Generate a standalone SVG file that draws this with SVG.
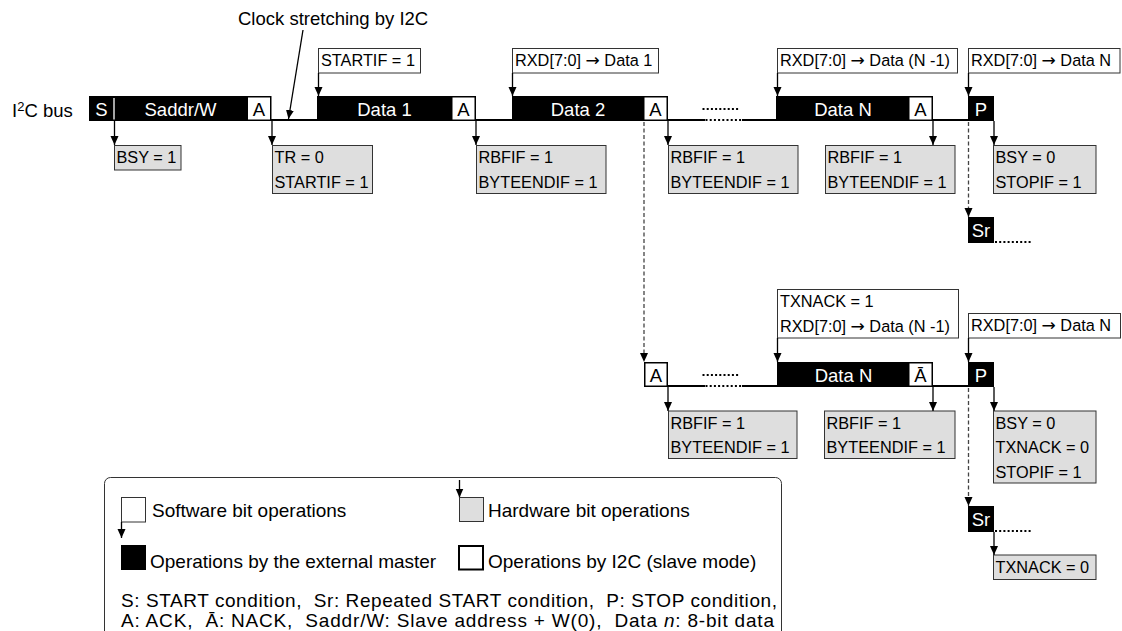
<svg xmlns="http://www.w3.org/2000/svg" width="1122" height="631" viewBox="0 0 1122 631">
<style>
text{font-family:"Liberation Sans",Arial,Helvetica,sans-serif;fill:#000}
.ann{font-size:16.3px}
.arw{font-family:"DejaVu Sans",sans-serif;font-size:17px}
.bus{font-size:18.5px;fill:#fff;text-anchor:middle}
.busk{font-size:18.5px;fill:#000;text-anchor:middle}
.lab{font-size:18.5px}
.leg{font-size:19px}
.gray{fill:#dedede;stroke:#333;stroke-width:1}
.white{fill:#fff;stroke:#333;stroke-width:1}
.bar{fill:#000}
.ackin{fill:#fff}
.busline{stroke:#000;stroke-width:2;fill:none}
.dot{stroke:#000;stroke-width:2;stroke-dasharray:2 2.2;fill:none}
.conn{stroke:#000;stroke-width:1.3;fill:none;marker-end:url(#ah)}
.dash{stroke:#444;stroke-width:1.3;stroke-dasharray:4 2.5;fill:none;marker-end:url(#ah)}
</style>
<defs>
<marker id="ah" markerUnits="userSpaceOnUse" markerWidth="9" markerHeight="10" refX="9" refY="4" orient="auto">
<path d="M0,0 L9,4 L0,8 z" fill="#000"/>
</marker>
</defs>

<text id="bus-label" class="lab" x="12" y="117">I<tspan font-size="13" dy="-6">2</tspan><tspan dy="6">C bus</tspan></text>
<text id="clock-label" class="lab" x="238" y="25">Clock stretching by I2C</text>

<g id="bus-upper">
  <rect class="bar" x="89" y="96" width="182.5" height="25"/>
  <line x1="114" y1="98" x2="114" y2="119.5" stroke="#fff" stroke-width="1.3"/>
  <rect class="ackin" x="248" y="97.5" width="22" height="22"/>
  <text class="bus" x="101.5" y="116">S</text>
  <text class="bus" x="180.5" y="116">Saddr/W</text>
  <text class="busk" x="259" y="116">A</text>

  <rect class="bar" x="317" y="96" width="159" height="25"/>
  <rect class="ackin" x="452.5" y="97.5" width="22" height="22"/>
  <text class="bus" x="384.5" y="116">Data 1</text>
  <text class="busk" x="463.5" y="116">A</text>

  <rect class="bar" x="512" y="96" width="156" height="25"/>
  <rect class="ackin" x="644.5" y="97.5" width="22" height="22"/>
  <text class="bus" x="578" y="116">Data 2</text>
  <text class="busk" x="655.5" y="116">A</text>

  <rect class="bar" x="776" y="96" width="157" height="25"/>
  <rect class="ackin" x="909.5" y="97.5" width="22" height="22"/>
  <text class="bus" x="843" y="116">Data N</text>
  <text class="busk" x="920.5" y="116">A</text>

  <rect class="bar" x="968" y="96" width="26" height="25"/>
  <text class="bus" x="981" y="116">P</text>

  <path class="busline" d="M271 120 H317 M476 120 H512 M668 120 H705 M742 120 H776 M933 120 H968"/>
  <path class="dot" d="M705.5 120 H742"/>
  <path class="dot" d="M702.5 109 H740"/>

  <rect class="bar" x="968" y="217" width="26" height="26"/>
  <text class="bus" x="981" y="237">Sr</text>
  <path class="dot" d="M995 242 H1031"/>
</g>

<g id="bus-lower">
  <rect class="bar" x="644" y="362" width="24" height="25"/>
  <rect class="ackin" x="645.5" y="363.5" width="21" height="22"/>
  <text class="busk" x="656" y="382">A</text>
  <path class="busline" d="M668 386 H705 M742 386 H777 M933 386 H968"/>
  <path class="dot" d="M705.5 386 H742"/>
  <path class="dot" d="M702.5 375 H740"/>

  <rect class="bar" x="777" y="362" width="156" height="25"/>
  <rect class="ackin" x="909.5" y="363.5" width="22" height="22"/>
  <text class="bus" x="843.5" y="382">Data N</text>
  <text class="busk" x="920.5" y="382">Ā</text>

  <rect class="bar" x="968" y="362" width="26" height="25"/>
  <text class="bus" x="981" y="382">P</text>

  <rect class="bar" x="968" y="506" width="26" height="26"/>
  <text class="bus" x="981" y="526">Sr</text>
  <path class="dot" d="M995 531 H1031"/>
</g>

<g id="sw-startif">
  <rect class="white" x="318.5" y="48.5" width="102" height="24.5"/>
  <text class="ann" x="321" y="66">STARTIF = 1</text>
</g>
<g id="sw-rxd1">
  <rect class="white" x="512.5" y="48.5" width="146" height="24.5"/>
  <text class="ann" x="515" y="66">RXD[7:0] <tspan class="arw">→</tspan> Data 1</text>
</g>
<g id="sw-rxdn1">
  <rect class="white" x="777.5" y="48.5" width="180" height="24.5"/>
  <text class="ann" x="780" y="66">RXD[7:0] <tspan class="arw">→</tspan> Data (N -1)</text>
</g>
<g id="sw-rxdn">
  <rect class="white" x="968.5" y="48.5" width="151.5" height="24.5"/>
  <text class="ann" x="971" y="66">RXD[7:0] <tspan class="arw">→</tspan> Data N</text>
</g>
<g id="sw-txnack">
  <rect class="white" x="777.5" y="289.5" width="181" height="48.5"/>
  <text class="ann" x="780" y="307">TXNACK = 1</text>
  <text class="ann" x="780" y="331.5">RXD[7:0] <tspan class="arw">→</tspan> Data (N -1)</text>
</g>
<g id="sw-rxdn-lower">
  <rect class="white" x="968.5" y="313.5" width="152" height="24.5"/>
  <text class="ann" x="971" y="331">RXD[7:0] <tspan class="arw">→</tspan> Data N</text>
</g>

<g id="hw-bsy1">
  <rect class="gray" x="114.5" y="145.5" width="66.5" height="24.5"/>
  <text class="ann" x="116.5" y="163">BSY = 1</text>
</g>
<g id="hw-tr">
  <rect class="gray" x="272.5" y="145.5" width="100" height="48"/>
  <text class="ann" x="274.5" y="163">TR = 0</text>
  <text class="ann" x="274.5" y="187.5">STARTIF = 1</text>
</g>
<g id="hw-rb1">
  <rect class="gray" x="476.5" y="145.5" width="129.5" height="48"/>
  <text class="ann" x="478.5" y="163">RBFIF = 1</text>
  <text class="ann" x="478.5" y="187.5">BYTEENDIF = 1</text>
</g>
<g id="hw-rb2">
  <rect class="gray" x="668.5" y="145.5" width="129.5" height="48"/>
  <text class="ann" x="670.5" y="163">RBFIF = 1</text>
  <text class="ann" x="670.5" y="187.5">BYTEENDIF = 1</text>
</g>
<g id="hw-rb3">
  <rect class="gray" x="825.5" y="145.5" width="129.5" height="48"/>
  <text class="ann" x="827.5" y="163">RBFIF = 1</text>
  <text class="ann" x="827.5" y="187.5">BYTEENDIF = 1</text>
</g>
<g id="hw-stop1">
  <rect class="gray" x="993.5" y="145.5" width="102.5" height="48"/>
  <text class="ann" x="995.5" y="163">BSY = 0</text>
  <text class="ann" x="995.5" y="187.5">STOPIF = 1</text>
</g>
<g id="hw-rb4">
  <rect class="gray" x="668.5" y="411" width="128.5" height="47.5"/>
  <text class="ann" x="670.5" y="428.5">RBFIF = 1</text>
  <text class="ann" x="670.5" y="453">BYTEENDIF = 1</text>
</g>
<g id="hw-rb5">
  <rect class="gray" x="824.5" y="411" width="130.5" height="47.5"/>
  <text class="ann" x="826.5" y="428.5">RBFIF = 1</text>
  <text class="ann" x="826.5" y="453">BYTEENDIF = 1</text>
</g>
<g id="hw-stop2">
  <rect class="gray" x="993.5" y="411" width="102.5" height="72"/>
  <text class="ann" x="995.5" y="428.5">BSY = 0</text>
  <text class="ann" x="995.5" y="453">TXNACK = 0</text>
  <text class="ann" x="995.5" y="477.5">STOPIF = 1</text>
</g>
<g id="hw-txnack0">
  <rect class="gray" x="993.5" y="555" width="102.5" height="24.5"/>
  <text class="ann" x="995.5" y="572.5">TXNACK = 0</text>
</g>

<g id="connectors">
  <line class="conn" x1="303" y1="30" x2="288.5" y2="119"/>
  <line class="conn" x1="114.5" y1="121" x2="114.5" y2="145"/>
  <line class="conn" x1="272" y1="121" x2="272" y2="145"/>
  <line class="conn" x1="476" y1="121" x2="476" y2="145"/>
  <line class="conn" x1="668" y1="121" x2="668" y2="145"/>
  <line class="conn" x1="933" y1="121" x2="933" y2="145"/>
  <line class="conn" x1="994" y1="121" x2="994" y2="145"/>
  <line class="conn" x1="318.5" y1="73" x2="318.5" y2="96"/>
  <line class="conn" x1="512.5" y1="73" x2="512.5" y2="96"/>
  <line class="conn" x1="777.5" y1="73" x2="777.5" y2="96"/>
  <line class="conn" x1="968.5" y1="73" x2="968.5" y2="96"/>
  <line class="dash" x1="644" y1="122" x2="644" y2="362"/>
  <line class="dash" x1="968.5" y1="122" x2="968.5" y2="217"/>
  <line class="conn" x1="777.5" y1="338" x2="777.5" y2="362"/>
  <line class="conn" x1="968.5" y1="338" x2="968.5" y2="362"/>
  <line class="conn" x1="668" y1="387" x2="668" y2="411"/>
  <line class="conn" x1="933" y1="387" x2="933" y2="411"/>
  <line class="conn" x1="994" y1="387" x2="994" y2="411"/>
  <line class="dash" x1="968.5" y1="388" x2="968.5" y2="506"/>
  <line class="conn" x1="994" y1="532" x2="994" y2="555"/>
</g>

<g id="legend">
  <rect x="104.5" y="477.5" width="677" height="180" rx="6" fill="#fff" stroke="#333" stroke-width="1"/>
  <rect class="white" x="121.5" y="497.5" width="24" height="24.5"/>
  <line class="conn" x1="121.5" y1="522" x2="121.5" y2="538"/>
  <text class="leg" x="152" y="517">Software bit operations</text>
  <line class="conn" x1="459.5" y1="480" x2="459.5" y2="497.5"/>
  <rect class="gray" x="459.5" y="497.5" width="24" height="24"/>
  <text class="leg" x="488" y="517">Hardware bit operations</text>
  <rect class="bar" x="121" y="545" width="25" height="25"/>
  <text class="leg" x="150" y="568">Operations by the external master</text>
  <rect x="459" y="546" width="24" height="23.5" fill="#fff" stroke="#000" stroke-width="2"/>
  <text class="leg" x="488" y="568">Operations by I2C (slave mode)</text>
  <text class="leg" x="121" y="607" textLength="656" xml:space="preserve">S: START condition,  Sr: Repeated START condition,  P: STOP condition,</text>
  <text class="leg" x="121" y="627" textLength="653" xml:space="preserve">A: ACK,  Ā: NACK,  Saddr/W: Slave address + W(0),  Data <tspan font-style="italic">n</tspan>: 8-bit data</text>
</g>
</svg>
